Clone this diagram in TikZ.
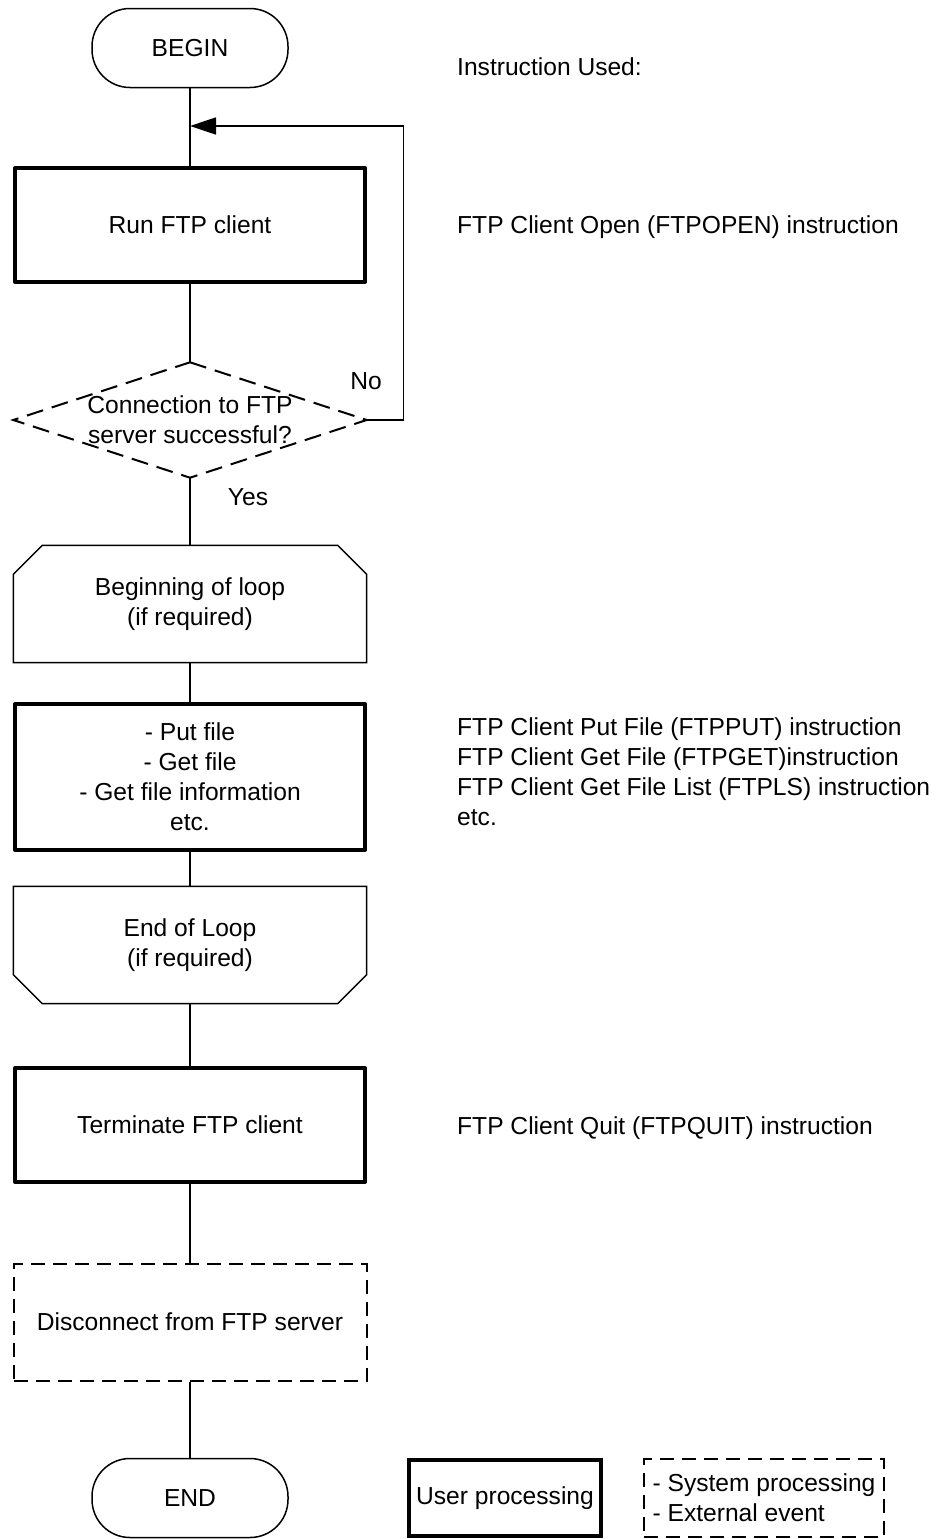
\documentclass[tikz,border=0pt]{standalone}
\usepackage{fontspec}
\setmainfont{Liberation Sans}
\usetikzlibrary{arrows.meta}

\tikzset{
  terminal/.style={draw, line width=1.5pt, rounded corners=38pt, minimum width=196pt, minimum height=79pt},
  userbox/.style={draw, line width=4pt, line join=round, minimum width=350pt, minimum height=114pt, align=center},
  sysbox/.style={draw, line width=2pt, dash pattern=on 14pt off 8pt, minimum width=353pt, minimum height=117pt, align=center},
  loopbox/.style={minimum width=353pt, minimum height=117pt, align=center},
  flow/.style={line width=1.5pt},
  note/.style={anchor=base west, inner sep=0pt},
}

\begin{document}
\begin{tikzpicture}[x=1pt, y=-1pt, >={Triangle[length=26pt,width=17pt]},
    every node/.style={font=\fontsize{24.6}{30}\selectfont}]
  \useasboundingbox (0,0) rectangle (937,1539);

  % flow chart
  \node[terminal] (begin) at (190,48) {BEGIN};
  \coordinate (join) at (190,126);
  \node[userbox] (run) at (190,225) {Run FTP client};
  \node[minimum width=353pt, minimum height=115pt, align=center] (dec) at (190,420)
        {Connection to FTP\\server successful?};
  \draw[line width=2pt, dash pattern=on 17pt off 9pt]
        (dec.north) -- (dec.east) -- (dec.south) -- (dec.west) -- cycle;
  \node[loopbox] (lbeg) at (190,604) {Beginning of loop\\(if required)};
  \draw[flow] ([xshift=29pt]lbeg.north west) -- ([xshift=-29pt]lbeg.north east)
        -- ([yshift=-29pt]lbeg.north east) -- (lbeg.south east)
        -- (lbeg.south west) -- ([yshift=-29pt]lbeg.north west) -- cycle;
  \node[userbox, minimum height=146pt] (work) at (190,777)
        {- Put file\\- Get file\\- Get file information\\etc.};
  \node[loopbox] (lend) at (190,945) {End of Loop\\(if required)};
  \draw[flow] (lend.north west) -- (lend.north east)
        -- ([yshift=29pt]lend.south east) -- ([xshift=-29pt]lend.south east)
        -- ([xshift=29pt]lend.south west) -- ([yshift=29pt]lend.south west) -- cycle;
  \node[userbox] (quit) at (190,1125) {Terminate FTP client};
  \node[sysbox] (disc) at (190,1322) {Disconnect from FTP server};
  \node[terminal] (end) at (190,1498) {END};

  \draw[flow] (begin) -- (run);
  \draw[flow] (run) -- (dec.north);
  \draw[flow] (dec.south) -- (lbeg);
  \draw[flow] (lbeg) -- (work);
  \draw[flow] (work) -- (lend);
  \draw[flow] (lend) -- (quit);
  \draw[flow] (quit) -- (disc);
  \draw[flow] (disc) -- (end);
  \draw[flow,->] (dec.east) -- ++(37,0) |- (join);
  \node (lblno) at (366,381) {No};
  \node (lblyes) at (248,497) {Yes};

  % instructions
  \node[note] (used) at (457,75) {Instruction Used:};
  \node[note] (iopen) at (457,233) {FTP Client Open (FTPOPEN) instruction};
  \node[anchor=north west, inner sep=0pt, align=left] (ifile) at (457,717)
        {FTP Client Put File (FTPPUT) instruction\\
         FTP Client Get File (FTPGET)instruction\\
         FTP Client Get File List (FTPLS) instruction\\
         etc.};
  \node[note] (iquit) at (457,1134) {FTP Client Quit (FTPQUIT) instruction};

  % legend
  \node[draw, line width=4pt, minimum width=192pt, minimum height=76pt, inner sep=1pt] (leguser) at (505,1498) {User processing};
  \node[draw, line width=2pt, dash pattern=on 14pt off 8pt, minimum width=240pt, minimum height=78pt,
        align=left, inner sep=1pt] (legsys) at (764,1498) {- System processing\\- External event};
\end{tikzpicture}
\end{document}
